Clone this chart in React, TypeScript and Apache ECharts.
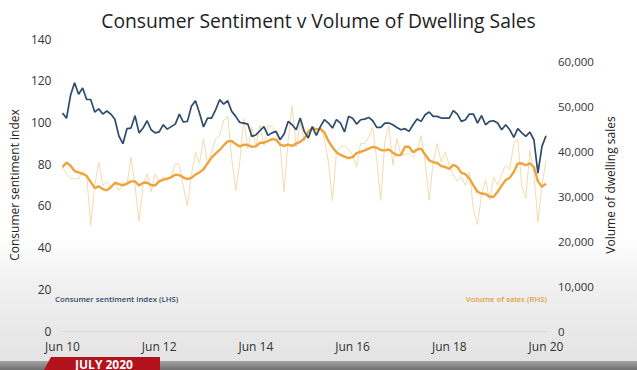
import React, { useEffect, useRef } from "react";
import * as echarts from "echarts";

// Monthly, Jun 2010 .. Jun 2020 (121 points)
const MONTHS = ["Jan", "Feb", "Mar", "Apr", "May", "Jun", "Jul", "Aug", "Sep", "Oct", "Nov", "Dec"];
const START_YEAR = 2010;
const START_MONTH = 5; // Jun
const N_POINTS = 121;

const sentiment = [
  104.5, 102, 113, 119, 113.5, 116.5, 111, 111, 105, 106.5, 104, 105.5, 104, 101.5, 93.5, 89.8, 97, 97.3, 103.2, 95, 97.3, 100.8, 96.5, 95, 95.5,
  98.9, 96.8, 98, 99.2, 104, 100.2, 100.5, 107.7, 110.4, 104.5, 97.8, 102.1, 102.1, 106, 110.9, 108.8, 110.4, 105.3, 102.9, 100, 99.7, 99.2, 93.3,
  94, 96, 98, 93.8, 95, 95.7, 91.7, 94.4, 100.5, 98.9, 96.5, 102.1, 95.7, 92.5, 98, 93.8, 98, 101.3, 99.7, 97.3, 101.3, 99.7, 95.4,
  102.9, 102, 99.2, 101.3, 101.6, 102.4, 100.8, 97.6, 97.6, 99.7, 99.7, 98.9, 97.6, 96.5, 97, 95.7, 98.9, 101.6, 100.5, 103.7, 105, 102.9, 102.9, 102.1, 102.1,
  102.1, 105.7, 104, 100.5, 101.3, 104, 104, 99.7, 103.3, 98.9, 100.5, 100.8, 99.7, 96.5, 98.9, 96.5, 92.8, 97, 95, 93.3, 95.4, 91.7, 75.7, 88.5, 93.6,
];

const salesVolume = [
  36500, 35000, 33900, 33900, 33900, 35400, 34700, 23500, 32400, 37600, 32400, 33300, 32100, 32800, 31300, 33000, 32500, 38700, 32400, 24400, 32400, 35000, 31000, 35000,
  33100, 34300, 33500, 34500, 37300, 37000, 32100, 27800, 34700, 39800, 37300, 42800, 37100, 39800, 42800, 43500, 46900, 47800, 38400, 31300, 37600, 47300, 40600, 45400,
  41000, 45800, 41300, 45800, 45400, 43900, 41300, 31000, 42400, 50100, 41000, 46500, 42400, 45000, 44700, 43900, 45000, 42800, 37600, 28900, 39800, 41000, 41300,
  40500, 39100, 36500, 41700, 41700, 43200, 45400, 38000, 29100, 42100, 45800, 36900, 42800, 39100, 39300, 39600, 38700, 40200, 43500, 37600, 29100, 37600, 41700, 37600, 39800,
  36900, 34700, 33300, 34300, 32400, 35400, 26900, 23700, 30200, 33600, 29100, 34300, 32400, 35000, 36900, 35900, 41700, 42800, 32100, 29500, 40200, 35000, 24300, 32400, 38000,
];

const salesTrend = [
  36500, 37500, 36800, 35600, 35300, 35000, 34500, 33200, 31800, 32200, 31600, 31300, 32000, 33000, 32700, 32400, 32800, 33300, 33300, 32400, 33000, 33000, 32500, 32400,
  33300, 33700, 33900, 34200, 34800, 34700, 34200, 33800, 34100, 34800, 35300, 36000, 37300, 38600, 39500, 40300, 41300, 42200, 42300, 41600, 41100, 41500, 41400, 41000,
  41100, 41900, 41900, 42300, 42700, 42600, 41500, 41200, 41500, 41200, 41700, 42100, 42800, 44300, 45200, 44900, 45000, 44200, 42300, 40900, 39800, 39200, 38800, 38500,
  38700, 39600, 39900, 40200, 40600, 41000, 40800, 40300, 40200, 40400, 39700, 39100, 39200, 41000, 41000, 39800, 40400, 40600, 39300, 38000, 37600, 37400, 36700, 36500,
  36100, 37000, 36500, 35200, 34900, 33900, 32400, 31000, 30600, 30500, 29900, 29900, 31000, 32400, 33600, 34100, 35400, 37300, 37300, 36900, 37300, 36500, 33300, 32100, 32800,
];

const categories: string[] = [];
for (let k = 0; k < N_POINTS; k++) {
  const m = (START_MONTH + k) % 12;
  const y = START_YEAR + Math.floor((START_MONTH + k) / 12);
  categories.push(`${MONTHS[m]} ${String(y).slice(2)}`);
}

const TITLE = "Consumer Sentiment v Volume of Dwelling Sales";
const LEFT_NAME = "Consumer sentiment index";
const RIGHT_NAME = "Volume of dwelling sales";
const LEFT_KEY = "Consumer sentiment index (LHS)";
const RIGHT_KEY = "Volume of sales (RHS)";
const BANNER = "JULY 2020";

const FONT = "'Open Sans', 'Noto Sans', sans-serif";

export default function App() {
  const ref = useRef<HTMLDivElement>(null);
  useEffect(() => {
    if (!ref.current) return;
    const chart = echarts.init(ref.current, null, { renderer: "svg" });
    chart.setOption({
      animation: false,
      textStyle: { fontFamily: FONT },
      title: {
        text: TITLE,
        left: "center",
        top: 6,
        textStyle: { fontFamily: FONT, fontSize: 19.3, fontWeight: "normal", color: "#1e1e1e" },
      },
      grid: { left: 54, right: 91, top: 39, bottom: 39 },
      xAxis: {
        type: "category",
        data: categories,
        boundaryGap: false,
        axisLine: { show: true, lineStyle: { color: "#d6d6d6", width: 1 } },
        axisTick: { show: false },
        splitLine: { show: false },
        axisLabel: {
          interval: (idx: number) => idx % 24 === 0,
          color: "#333",
          fontSize: 12,
          fontFamily: FONT,
          margin: 9,
        },
      },
      yAxis: [
        {
          type: "value",
          min: 0,
          max: 140,
          interval: 20,
          name: LEFT_NAME,
          nameLocation: "middle",
          nameGap: 36,
          nameTextStyle: { color: "#222", fontSize: 12, fontFamily: FONT },
          axisLine: { show: false },
          axisTick: { show: false },
          splitLine: { show: false },
          axisLabel: { color: "#333", fontSize: 12, fontFamily: FONT, margin: 11 },
        },
        {
          type: "value",
          min: 0,
          max: 65000,
          interval: 10000,
          name: RIGHT_NAME,
          nameLocation: "middle",
          nameGap: 46,
          nameTextStyle: { color: "#222", fontSize: 12, fontFamily: FONT },
          axisLine: { show: false },
          axisTick: { show: false },
          splitLine: { show: false },
          axisLabel: {
            color: "#333",
            fontSize: 11.5,
            fontFamily: FONT,
            margin: 12,
            showMaxLabel: false,
            formatter: (v: number) => (v > 60000 ? "" : v.toLocaleString("en-US")),
          },
        },
      ],
      series: [
        {
          type: "line",
          name: "Volume of sales",
          yAxisIndex: 1,
          data: salesVolume,
          showSymbol: false,
          lineStyle: { color: "#f3dab0", width: 1 },
          itemStyle: { color: "#f3dab0" },
          z: 1,
        },
        {
          type: "line",
          name: "Volume of sales trend",
          yAxisIndex: 1,
          data: salesTrend,
          showSymbol: false,
          lineStyle: { color: "#eea43a", width: 2.4 },
          itemStyle: { color: "#eea43a" },
          z: 2,
        },
        {
          type: "line",
          name: "Consumer sentiment index",
          yAxisIndex: 0,
          data: sentiment,
          showSymbol: false,
          lineStyle: { color: "#2d4b6c", width: 1.7 },
          itemStyle: { color: "#2d4b6c" },
          z: 3,
        },
      ],
      graphic: [
        {
          type: "text",
          left: 55,
          top: 295,
          style: { text: LEFT_KEY, fill: "#2d4b6c", font: `600 7.8px ${FONT}` },
        },
        {
          type: "text",
          right: 90,
          top: 295,
          style: { text: RIGHT_KEY, fill: "#e3a03f", font: `600 7.8px ${FONT}` },
        },
        {
          type: "rect",
          left: 0,
          top: 361,
          shape: { width: 637, height: 9 },
          style: {
            fill: new echarts.graphic.LinearGradient(0, 0, 0, 1, [
              { offset: 0, color: "#a4a4a4" },
              { offset: 1, color: "#6f6f6f" },
            ]),
          },
        },
        {
          type: "polygon",
          shape: { points: [[44, 370], [51, 357], [160, 357], [160, 370]] },
          style: { fill: "#b3121c" },
        },
        {
          type: "text",
          x: 104,
          y: 358,
          style: {
            text: BANNER,
            fill: "#fff",
            font: `bold 12px ${FONT}`,
            textAlign: "center",
          },
        },
      ],
    });
    return () => chart.dispose();
  }, []);
  return (
    <div
      style={{
        position: "absolute",
        left: 0,
        top: 0,
        width: 637,
        height: 370,
        background: "linear-gradient(to bottom, #ffffff 0%, #ffffff 64%, #f1f1f1 76%, #e4e4e4 97%)",
        overflow: "hidden",
      }}
    >
      <div ref={ref} style={{ width: 637, height: 370 }} />
    </div>
  );
}
